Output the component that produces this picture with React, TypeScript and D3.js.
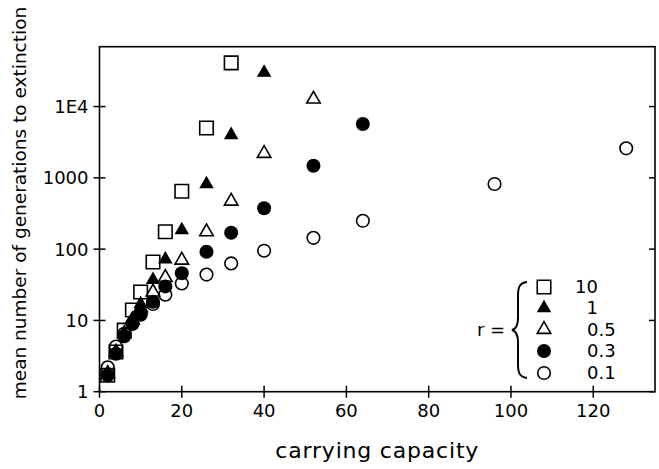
import React, { useEffect, useRef } from 'react';
import * as d3 from 'd3';

// carrying capacities used in the runs
const capacities = [2, 4, 6, 8, 10, 13, 16, 20, 26, 32, 40, 52, 64, 96, 128];

// mean generations to extinction, one array per r
const r10 = [1.7, 3.6, 7.3, 14, 25, 66, 175, 650, 5000, 41000];
const r1 = [1.8, 3.5, 6.5, 10.5, 17, 37, 72, 185, 820, 4000, 30000];
const r05 = [1.8, 3.6, 6.5, 10, 15, 25, 40, 70, 175, 470, 2200, 12700];
const r03 = [1.7, 3.4, 6, 9, 12.5, 18.3, 30, 46, 92, 170, 375, 1480, 5700];
const r01 = [2.2, 4.3, 6.5, 9, 12, 17, 23, 33, 44, 63, 95, 144, 250, 820, 2600];

const legendLabels = ['10', '1', '0.5', '0.3', '0.1'];
const xTicks = [0, 20, 40, 60, 80, 100, 120];
const yTicks = [1, 10, 100, 1000, 10000];
const yTickLabels = ['1', '10', '100', '1000', '1E4'];

const FONT = 'DejaVu Sans, sans-serif';

const App = () => {
  const svgRef = useRef<SVGSVGElement>(null);

  useEffect(() => {
    const W = 659;
    const H = 469;
    const left = 99.5;
    const right = 655;
    const top = 46.7;
    const bottom = 391.7;

    const svg = d3.select(svgRef.current).attr('width', W).attr('height', H);
    svg.selectAll('*').remove();

    const x = d3.scaleLinear().domain([0, 135]).range([left, right]);
    const y = d3.scaleLog().domain([1, Math.pow(10, 4.84)]).range([bottom, top]);

    // frame
    svg
      .append('rect')
      .attr('x', left)
      .attr('y', top)
      .attr('width', right - left)
      .attr('height', bottom - top)
      .attr('fill', 'none')
      .attr('stroke', '#000')
      .attr('stroke-width', 1.6);

    // bottom axis
    const bx = svg.append('g');
    bx.selectAll('line')
      .data(xTicks)
      .enter()
      .append('line')
      .attr('x1', (d) => x(d))
      .attr('x2', (d) => x(d))
      .attr('y1', bottom - 6)
      .attr('y2', bottom + 6)
      .attr('stroke', '#000')
      .attr('stroke-width', 1.5);
    bx.selectAll('text')
      .data(xTicks)
      .enter()
      .append('text')
      .attr('x', (d) => x(d))
      .attr('y', bottom + 25)
      .attr('text-anchor', 'middle')
      .attr('font-family', FONT)
      .attr('font-size', 18)
      .text((d) => String(d));

    // left axis
    const ly = svg.append('g');
    ly.selectAll('line')
      .data(yTicks)
      .enter()
      .append('line')
      .attr('x1', left - 6)
      .attr('x2', left + 6)
      .attr('y1', (d) => y(d))
      .attr('y2', (d) => y(d))
      .attr('stroke', '#000')
      .attr('stroke-width', 1.5);
    ly.selectAll('text')
      .data(yTicks)
      .enter()
      .append('text')
      .attr('x', left - 11)
      .attr('y', (d) => y(d))
      .attr('dy', '0.36em')
      .attr('text-anchor', 'end')
      .attr('font-family', FONT)
      .attr('font-size', 18)
      .text((d, i) => yTickLabels[i]);

    // right axis ticks, pointing inward
    svg
      .append('g')
      .selectAll('line')
      .data(yTicks)
      .enter()
      .append('line')
      .attr('x1', right - 6)
      .attr('x2', right)
      .attr('y1', (d) => y(d))
      .attr('y2', (d) => y(d))
      .attr('stroke', '#000')
      .attr('stroke-width', 1.5);

    // axis titles
    svg
      .append('text')
      .attr('x', (left + right) / 2)
      .attr('y', 458)
      .attr('text-anchor', 'middle')
      .attr('font-family', FONT)
      .attr('font-size', 22)
      .attr('letter-spacing', 0.8)
      .text('carrying capacity');

    svg
      .append('text')
      .attr('transform', 'translate(26,203) rotate(-90)')
      .attr('text-anchor', 'middle')
      .attr('font-family', FONT)
      .attr('font-size', 18.5)
      .text('mean number of generations to extinction');

    const triArea = (w: number) => (Math.sqrt(3) / 4) * w * w;
    const styles = [
      { vals: r10, type: d3.symbolSquare, size: 13.5 * 13.5, fill: 'none' },
      { vals: r1, type: d3.symbolTriangle, size: triArea(14.5), fill: '#000' },
      { vals: r05, type: d3.symbolTriangle, size: triArea(13.5), fill: 'none' },
      { vals: r03, type: d3.symbolCircle, size: Math.PI * 7 * 7, fill: '#000' },
      { vals: r01, type: d3.symbolCircle, size: Math.PI * 6.3 * 6.3, fill: 'none' },
    ];

    const pts = svg.append('g');
    [...styles].reverse().forEach((s) => {
      const sym = d3.symbol().type(s.type).size(s.size);
      pts
        .append('g')
        .selectAll('path')
        .data(s.vals)
        .enter()
        .append('path')
        .attr('d', sym as any)
        .attr('transform', (d, i) => `translate(${x(capacities[i])},${y(d)})`)
        .attr('fill', s.fill)
        .attr('stroke', '#000')
        .attr('stroke-width', s.fill === 'none' ? 1.6 : 0);
    });

    // legend
    const lg = svg.append('g');
    const rowY = [287, 308, 329.5, 351, 373];
    lg.append('text')
      .attr('x', 477)
      .attr('y', 330)
      .attr('dy', '0.36em')
      .attr('font-family', FONT)
      .attr('font-size', 18)
      .text('r =');
    lg.append('path')
      .attr(
        'd',
        'M527,282 C519,283 518,288 518,296 L518,318 C518,326 516,329 512,330 C516,331 518,334 518,342 L518,364 C518,372 519,377 527,378'
      )
      .attr('fill', 'none')
      .attr('stroke', '#000')
      .attr('stroke-width', 2);
    styles.forEach((s, i) => {
      lg.append('path')
        .attr('d', d3.symbol().type(s.type).size(s.size)() as string)
        .attr('transform', `translate(544,${rowY[i]})`)
        .attr('fill', s.fill)
        .attr('stroke', '#000')
        .attr('stroke-width', s.fill === 'none' ? 1.6 : 0);
      const lab = legendLabels[i];
      lg.append('text')
        .attr('x', lab.includes('.') ? 587 : 598)
        .attr('y', rowY[i])
        .attr('dy', '0.36em')
        .attr('text-anchor', lab.includes('.') ? 'start' : 'end')
        .attr('font-family', FONT)
        .attr('font-size', 18)
        .text(lab);
    });
  }, []);

  return (
    <div style={{ position: 'absolute', left: 0, top: 0, background: '#fff' }}>
      <svg ref={svgRef}></svg>
    </div>
  );
};

export default App;
